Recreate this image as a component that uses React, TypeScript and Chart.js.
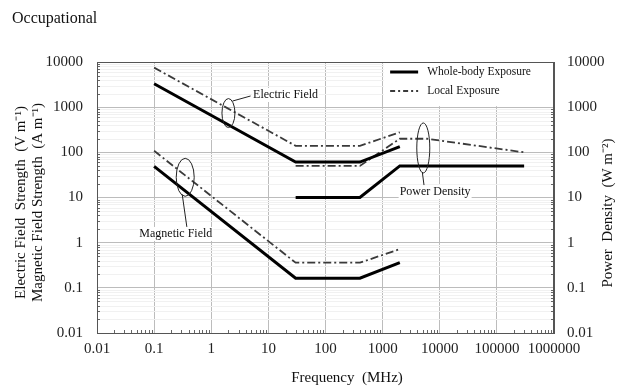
import React, { useEffect, useRef } from "react";
import { Chart, registerables } from "chart.js";

Chart.register(...registerables);

// ---- data ----
const titleText = "Occupational";
const xTitle = "Frequency  (MHz)";
const yTitleLines = ["Electric Field  Strength  (V m\u207B\u00B9)", "Magnetic Field Strength  (A m\u207B\u00B9)"];
const y2Title = "Power  Density  (W m\u207B\u00B2)";

const xTicks = [0.01, 0.1, 1, 10, 100, 1000, 10000, 100000, 1000000];
const xTickLabels = ["0.01", "0.1", "1", "10", "100", "1000", "10000", "100000", "1000000"];
const yTicks = [0.01, 0.1, 1, 10, 100, 1000, 10000];
const yTickLabels = ["0.01", "0.1", "1", "10", "100", "1000", "10000"];

const legendLabels = ["Whole-body Exposure", "Local Exposure"];

// Electric field (V/m)
const eFreq = [0.1, 30, 400, 2000];
const eWhole = [3300, 61, 61, 134];
const eLocal = [7500, 139, 139, 278];
// Magnetic field (A/m)
const hFreq = [0.1, 30, 400, 2000];
const hWhole = [49, 0.163, 0.163, 0.36];
const hLocal = [108, 0.36, 0.36, 0.72];
// Power density (W/m2)
const sWholeFreq = [30, 400, 2000, 300000];
const sWhole = [10, 10, 50, 50];
const sLocalFreq = [30, 400, 2000, 6000, 300000];
const sLocal = [50, 50, 200, 200, 100];

// annotations (data coordinates)
const annotationLabels = ["Electric Field", "Magnetic Field", "Power Density"];
const annotationTextAt = [[20, 1860], [0.24, 1.56], [8300, 13.2]];
const annotationEllipseAt = [[2, 740], [0.35, 28], [5150, 125]];

const FONT = '"Liberation Serif", "Times New Roman", serif';

const pts = (xs: number[], ys: number[]) => xs.map((x, i) => ({ x, y: ys[i] }));

const SOLID = { borderColor: "#000", borderWidth: 3, borderDash: [] as number[] };
const DASHDOT = { borderColor: "#3a3a3a", borderWidth: 1.8, borderDash: [8, 3, 2, 3] };

const annotStyle = [
  { rx: 6.5, ry: 14.5, s: [4, -12], e: [-35, 1] },
  { rx: 9, ry: 19, s: [-3, 17], e: [11, -7] },
  { rx: 6.5, ry: 25, s: [-1, 24], e: [-11, -6] },
];

const overlayPlugin = {
  id: "overlay",
  beforeDatasetsDraw(chart: any) {
    const { ctx, chartArea: ca, scales } = chart;
    const xs = scales.x;
    const ys = scales.y;
    ctx.save();
    // minor horizontal grid
    ctx.strokeStyle = "#f1f1f1";
    ctx.lineWidth = 1;
    for (let d = -2; d < 4; d++) {
      for (let k = 2; k <= 9; k++) {
        const py = Math.round(ys.getPixelForValue(k * Math.pow(10, d))) + 0.5;
        ctx.beginPath();
        ctx.moveTo(ca.left, py);
        ctx.lineTo(ca.right, py);
        ctx.stroke();
      }
    }
    // minor ticks (inward)
    ctx.strokeStyle = "#666";
    for (let d = -2; d < 4; d++) {
      for (let k = 2; k <= 9; k++) {
        const py = Math.round(ys.getPixelForValue(k * Math.pow(10, d))) + 0.5;
        ctx.beginPath();
        ctx.moveTo(ca.left, py);
        ctx.lineTo(ca.left + 3, py);
        ctx.moveTo(ca.right, py);
        ctx.lineTo(ca.right - 3, py);
        ctx.stroke();
      }
    }
    for (let d = -2; d < 6; d++) {
      for (let k = 2; k <= 9; k++) {
        const px = Math.round(xs.getPixelForValue(k * Math.pow(10, d))) + 0.5;
        ctx.beginPath();
        ctx.moveTo(px, ca.bottom);
        ctx.lineTo(px, ca.bottom - 3);
        ctx.stroke();
      }
    }
    ctx.restore();
  },
  afterDatasetsDraw(chart: any) {
    const { ctx, chartArea: ca, scales } = chart;
    const xs = scales.x;
    const ys = scales.y;
    ctx.save();
    // frame
    ctx.strokeStyle = "#555";
    ctx.lineWidth = 1;
    ctx.strokeRect(Math.round(ca.left) + 0.5, Math.round(ca.top) + 0.5, Math.round(ca.right - ca.left) - 1, Math.round(ca.bottom - ca.top));

    // legend box
    const lx = xs.getPixelForValue(1000) + 1.5;
    const ly = ca.top + 1;
    const lw = ca.right - lx - 1;
    const lh = ys.getPixelForValue(1000) - ly - 1;
    ctx.fillStyle = "#fff";
    ctx.fillRect(lx, ly, lw, lh);
    const rows = [SOLID, DASHDOT];
    ctx.font = `11.5px ${FONT}`;
    ctx.textBaseline = "middle";
    ctx.textAlign = "left";
    rows.forEach((st, i) => {
      const yy = ly + 9 + i * 19;
      ctx.strokeStyle = st.borderColor;
      ctx.lineWidth = st.borderWidth;
      ctx.setLineDash(st.borderDash.length ? [5, 3, 2, 3] : []);
      ctx.beginPath();
      ctx.moveTo(lx + 6, yy);
      ctx.lineTo(lx + 34, yy);
      ctx.stroke();
      ctx.setLineDash([]);
      ctx.fillStyle = "#111";
      ctx.fillText(legendLabels[i], lx + 43, yy);
    });

    // annotations
    ctx.font = `12px ${FONT}`;
    ctx.textAlign = "center";
    ctx.textBaseline = "middle";
    annotationLabels.forEach((lab, i) => {
      const st = annotStyle[i];
      const ex = xs.getPixelForValue(annotationEllipseAt[i][0]);
      const ey = ys.getPixelForValue(annotationEllipseAt[i][1]);
      const tx = xs.getPixelForValue(annotationTextAt[i][0]);
      const ty = ys.getPixelForValue(annotationTextAt[i][1]);
      ctx.strokeStyle = "#222";
      ctx.lineWidth = 1;
      ctx.beginPath();
      ctx.ellipse(ex, ey, st.rx, st.ry, 0, 0, Math.PI * 2);
      ctx.stroke();
      ctx.beginPath();
      ctx.moveTo(ex + st.s[0], ey + st.s[1]);
      ctx.lineTo(tx + st.e[0], ty + st.e[1]);
      ctx.stroke();
      const w = ctx.measureText(lab).width;
      ctx.fillStyle = "#fff";
      ctx.fillRect(tx - w / 2 - 1, ty - 7, w + 2, 14);
      ctx.fillStyle = "#111";
      ctx.fillText(lab, tx, ty);
    });
    ctx.restore();
  },
  afterDraw(chart: any) {
    const { ctx, chartArea: ca } = chart;
    ctx.save();
    ctx.fillStyle = "#111";
    ctx.font = `16px ${FONT}`;
    ctx.textAlign = "left";
    ctx.textBaseline = "alphabetic";
    ctx.fillText(titleText, 12, 23);

    ctx.font = `15px ${FONT}`;
    ctx.textAlign = "center";
    ctx.textBaseline = "middle";
    ctx.fillText(xTitle, 347, 378);

    const cy = (ca.top + ca.bottom) / 2 + 5;
    ctx.save();
    ctx.translate(21, cy);
    ctx.rotate(-Math.PI / 2);
    ctx.fillText(yTitleLines[0], 0, 0);
    ctx.restore();
    ctx.save();
    ctx.translate(38, cy);
    ctx.rotate(-Math.PI / 2);
    ctx.fillText(yTitleLines[1], 0, 0);
    ctx.restore();

    ctx.save();
    ctx.translate(608, 213);
    ctx.rotate(-Math.PI / 2);
    ctx.fillText(y2Title, 0, 0);
    ctx.restore();
    ctx.restore();
  },
};

export default function App() {
  const ref = useRef<HTMLCanvasElement | null>(null);
  useEffect(() => {
    if (!ref.current) return;
    const tickFont = { family: FONT, size: 15 };
    const chart = new Chart(ref.current, {
      type: "scatter",
      data: {
        datasets: [
          { label: "E whole-body", data: pts(eFreq, eWhole), ...SOLID },
          { label: "E local", data: pts(eFreq, eLocal), ...DASHDOT },
          { label: "H whole-body", data: pts(hFreq, hWhole), ...SOLID },
          { label: "H local", data: pts(hFreq, hLocal), ...DASHDOT },
          { label: "S whole-body", data: pts(sWholeFreq, sWhole), yAxisID: "y2", ...SOLID },
          { label: "S local", data: pts(sLocalFreq, sLocal), yAxisID: "y2", ...DASHDOT },
        ].map((d: any) => ({ ...d, showLine: true, pointRadius: 0, fill: false, tension: 0 })),
      },
      options: {
        animation: false,
        responsive: false,
        maintainAspectRatio: false,
        devicePixelRatio: 1,
        layout: { padding: { top: 62, left: 0, right: 0, bottom: 0 } },
        plugins: { legend: { display: false }, tooltip: { enabled: false } },
        scales: {
          x: {
            type: "logarithmic",
            position: "bottom",
            min: 0.01,
            max: 1000000,
            afterBuildTicks: (a: any) => {
              a.ticks = xTicks.map((v) => ({ value: v }));
            },
            afterFit: (a: any) => {
              a.height = 55;
            },
            ticks: {
              autoSkip: false,
              maxRotation: 0,
              padding: 7,
              font: tickFont,
              color: "#222",
              callback: (_v: any, i: number) => xTickLabels[i],
            },
            grid: { color: "#bcbcbc", drawTicks: false, lineWidth: 1 },
            border: { display: true, color: "#555" },
          },
          y: {
            type: "logarithmic",
            position: "left",
            min: 0.01,
            max: 10000,
            afterBuildTicks: (a: any) => {
              a.ticks = yTicks.map((v) => ({ value: v }));
            },
            afterFit: (a: any) => {
              a.width = 97;
            },
            ticks: {
              autoSkip: false,
              padding: 14,
              font: tickFont,
              color: "#222",
              callback: (_v: any, i: number) => yTickLabels[i],
            },
            grid: { color: "#bcbcbc", drawTicks: false, lineWidth: 1 },
            border: { display: true, color: "#555" },
          },
          y2: {
            type: "logarithmic",
            position: "right",
            min: 0.01,
            max: 10000,
            afterBuildTicks: (a: any) => {
              a.ticks = yTicks.map((v) => ({ value: v }));
            },
            afterFit: (a: any) => {
              a.width = 67;
            },
            ticks: {
              autoSkip: false,
              padding: 13,
              font: tickFont,
              color: "#222",
              callback: (_v: any, i: number) => yTickLabels[i],
            },
            grid: { display: false, drawTicks: false },
            border: { display: true, color: "#555" },
          },
        },
      } as any,
      plugins: [overlayPlugin],
    });
    return () => chart.destroy();
  }, []);
  return (
    <div style={{ position: "fixed", left: 0, top: 0, width: 621, height: 388, background: "#fff" }}>
      <canvas ref={ref} width={621} height={388} style={{ display: "block", width: 621, height: 388 }} />
    </div>
  );
}
